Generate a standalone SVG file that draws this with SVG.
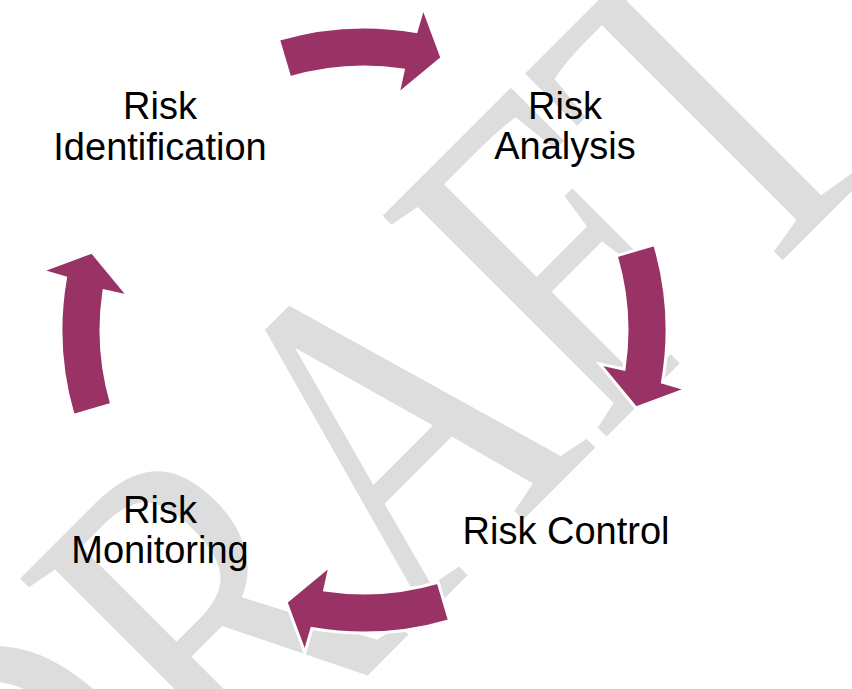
<svg xmlns="http://www.w3.org/2000/svg" xmlns:xlink="http://www.w3.org/1999/xlink" width="852" height="689" viewBox="0 0 852 689">
  <style>
    .wm { font-family: "Liberation Serif", "Times New Roman", serif; font-size: 480px; fill: #dddddd; }
    .lbl { font-family: "Liberation Sans", Arial, sans-serif; font-size: 38px; fill: #000000; text-anchor: middle; }
    .arr { fill: #993366; stroke: #ffffff; stroke-width: 3; stroke-linejoin: miter; }
  </style>
  <defs>
    <path id="arrow" class="arr" d="M 278.5 39.3 A 303 303 0 0 1 416.1 31.5 L 423.2 7.4 L 442 58 L 397.9 94.4 L 403.3 70 A 263 263 0 0 0 289.8 77.7 Z"/>
  </defs>
  <rect x="0" y="0" width="852" height="689" fill="#ffffff"/>
  <g id="watermark">
    <text class="wm" transform="rotate(-45) translate(-672 737.5) scale(0.769 1)" x="0" y="0">DRAFT</text>
  </g>
  <g id="connectors">
    <use xlink:href="#arrow" href="#arrow"/>
    <use xlink:href="#arrow" href="#arrow" transform="rotate(90 364 330)"/>
    <use xlink:href="#arrow" href="#arrow" transform="rotate(180 364 330)"/>
    <use xlink:href="#arrow" href="#arrow" transform="rotate(270 364 330)"/>
  </g>
  <g id="risk-identification">
    <text class="lbl" x="160" y="119">Risk</text>
    <text class="lbl" x="160" y="160">Identification</text>
  </g>
  <g id="risk-analysis">
    <text class="lbl" x="565" y="119">Risk</text>
    <text class="lbl" x="565" y="159">Analysis</text>
  </g>
  <g id="risk-control">
    <text class="lbl" x="566" y="544">Risk Control</text>
  </g>
  <g id="risk-monitoring">
    <text class="lbl" x="160" y="523">Risk</text>
    <text class="lbl" x="160" y="563">Monitoring</text>
  </g>
</svg>
